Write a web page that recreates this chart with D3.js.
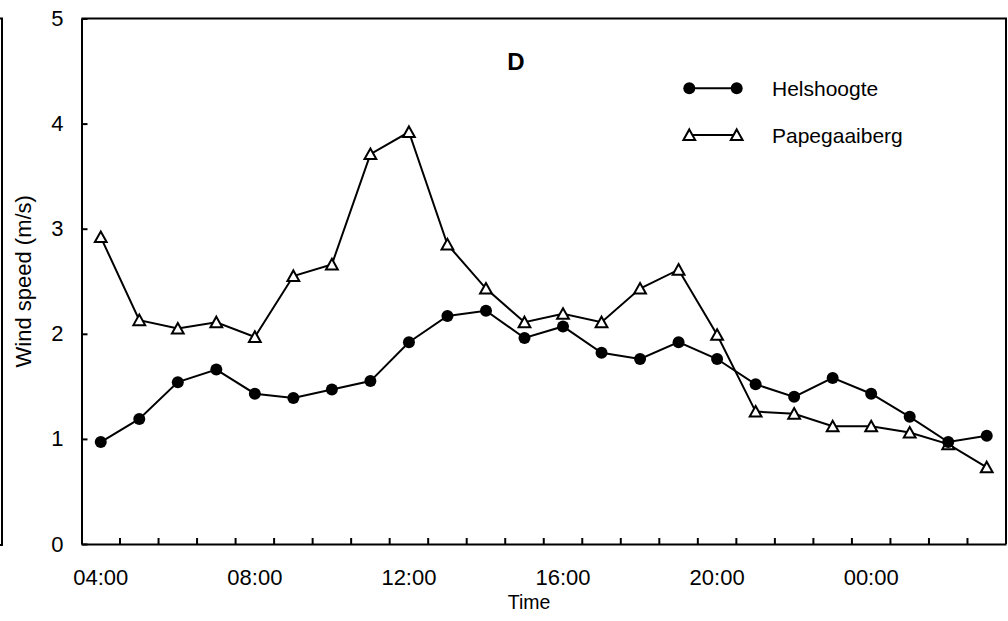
<!DOCTYPE html>
<html>
<head>
<meta charset="utf-8">
<script src="https://cdn.jsdelivr.net/npm/d3@7"></script>
<style>
  html, body { margin: 0; padding: 0; background: #fff; }
  svg { display: block; font-family: "Liberation Sans", Arial, Helvetica, sans-serif; }
</style>
</head>
<body>
<svg id="chart" width="1008" height="621"></svg>
<script>
// Hourly wind speed at two stations
const times = ["04:00","05:00","06:00","07:00","08:00","09:00","10:00","11:00",
               "12:00","13:00","14:00","15:00","16:00","17:00","18:00","19:00",
               "20:00","21:00","22:00","23:00","00:00","01:00","02:00","03:00"];
const helshoogte   = [0.97,1.19,1.54,1.66,1.43,1.39,1.47,1.55,1.92,2.17,2.22,1.96,
                      2.07,1.82,1.76,1.92,1.76,1.52,1.40,1.58,1.43,1.21,0.97,1.03];
const papegaaiberg = [2.92,2.13,2.05,2.11,1.97,2.55,2.66,3.71,3.92,2.85,2.43,2.11,
                      2.19,2.11,2.43,2.61,1.99,1.26,1.24,1.12,1.12,1.06,0.95,0.73];
const yTicks = [0,1,2,3,4,5];
const xLabels = ["04:00","08:00","12:00","16:00","20:00","00:00"];
const seriesNames = ["Helshoogte","Papegaaiberg"];

const svg = d3.select("#chart");
const plotL = 81.5, plotR = 1006, plotT = 18.5, plotB = 544;

const x = d3.scaleBand().domain(times).range([plotL, plotR]).padding(0);
const y = d3.scaleLinear().domain([0, 5]).range([plotB, plotT]);
const cx = t => x(t) + x.bandwidth() / 2;

// Edge of the neighbouring panel
svg.append("path")
  .attr("d", `M0,${plotT} H2 V${plotB + 1} H0`)
  .attr("fill", "none").attr("stroke", "#000").attr("stroke-width", 2);

// Frame top and right
svg.append("path")
  .attr("d", `M${plotL},${plotT} H${plotR} V${plotB}`)
  .attr("fill", "none").attr("stroke", "#000").attr("stroke-width", 2);

// Y axis with inward ticks
const yAxis = svg.append("g")
  .attr("transform", `translate(${plotL},0)`)
  .call(d3.axisLeft(y).tickValues(yTicks).tickFormat(d3.format("d"))
        .tickSizeInner(-6).tickSizeOuter(0).tickPadding(18));
yAxis.select(".domain").attr("stroke-width", 2);
yAxis.selectAll(".tick line").attr("stroke-width", 2);
yAxis.selectAll(".tick text").attr("font-size", 22).attr("fill", "#000")
  .attr("font-family", "Liberation Sans, Arial, sans-serif").attr("dy", "0.32em");

// X axis: labels at hour centres, tick marks on the band boundaries
const xAxis = svg.append("g")
  .attr("transform", `translate(0,${plotB})`)
  .call(d3.axisBottom(x).tickValues(xLabels).tickSize(0).tickPadding(25));
xAxis.select(".domain").attr("stroke-width", 2);
xAxis.selectAll(".tick text").attr("font-size", 22).attr("fill", "#000")
  .attr("font-family", "Liberation Sans, Arial, sans-serif");

svg.append("g").selectAll("line")
  .data(times.slice(1))
  .join("line")
  .attr("x1", d => x(d)).attr("x2", d => x(d))
  .attr("y1", plotB).attr("y2", plotB - 6)
  .attr("stroke", "#000").attr("stroke-width", 2);

// Axis titles
svg.append("text")
  .attr("transform", `translate(31,${(plotT + plotB) / 2}) rotate(-90)`)
  .attr("text-anchor", "middle").attr("font-size", 22)
  .text("Wind speed (m/s)");
svg.append("text")
  .attr("x", 529).attr("y", 609)
  .attr("text-anchor", "middle").attr("font-size", 19.5)
  .text("Time");

// Panel letter
svg.append("text")
  .attr("x", 516).attr("y", 70)
  .attr("text-anchor", "middle").attr("font-size", 24).attr("font-weight", "bold")
  .text("D");

// Series
const line = d3.line().x((d, i) => cx(times[i])).y(d => y(d));
const triPath = "M0,-5.6L5.9,5L-5.9,5Z";

svg.append("path").datum(helshoogte)
  .attr("d", line).attr("fill", "none").attr("stroke", "#000").attr("stroke-width", 2);
svg.append("path").datum(papegaaiberg)
  .attr("d", line).attr("fill", "none").attr("stroke", "#000").attr("stroke-width", 2);

svg.append("g").selectAll("path")
  .data(papegaaiberg)
  .join("path")
  .attr("transform", (d, i) => `translate(${cx(times[i])},${y(d)})`)
  .attr("d", triPath)
  .attr("fill", "#fff").attr("stroke", "#000").attr("stroke-width", 2);

svg.append("g").selectAll("circle")
  .data(helshoogte)
  .join("circle")
  .attr("cx", (d, i) => cx(times[i])).attr("cy", d => y(d))
  .attr("r", 6).attr("fill", "#000");

// Legend
const legend = svg.append("g");
const legRows = [{ name: seriesNames[0], ly: 88.3, marker: "circle" },
                 { name: seriesNames[1], ly: 135, marker: "triangle" }];
legRows.forEach(r => {
  legend.append("line")
    .attr("x1", 689.3).attr("x2", 736.7).attr("y1", r.ly).attr("y2", r.ly)
    .attr("stroke", "#000").attr("stroke-width", 2);
  [689.3, 736.7].forEach(mx => {
    if (r.marker === "circle") {
      legend.append("circle").attr("cx", mx).attr("cy", r.ly).attr("r", 6).attr("fill", "#000");
    } else {
      legend.append("path").attr("transform", `translate(${mx},${r.ly})`)
        .attr("d", triPath).attr("fill", "#fff").attr("stroke", "#000").attr("stroke-width", 2);
    }
  });
  legend.append("text")
    .attr("x", 772).attr("y", r.ly + 7.5)
    .attr("font-size", 21)
    .text(r.name);
});
</script>
</body>
</html>
